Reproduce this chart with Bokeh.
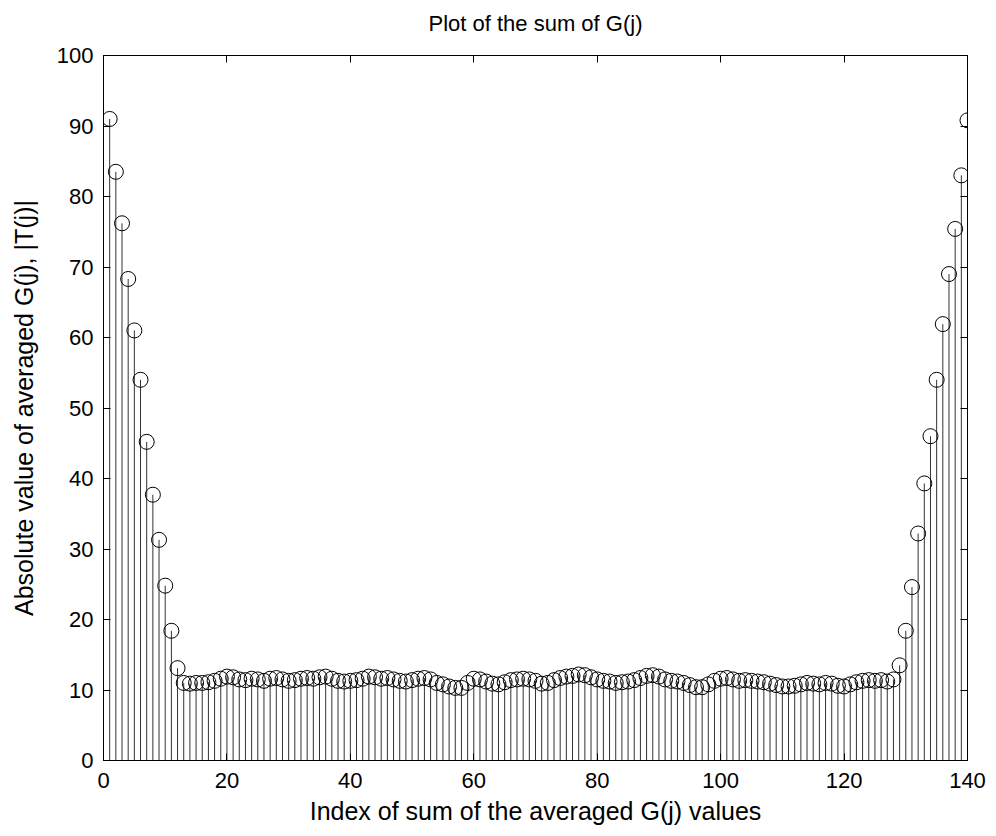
from bokeh.plotting import figure
from bokeh.models import LinearAxis, FixedTicker, ColumnDataSource
from bokeh.embed import file_html
from bokeh.resources import INLINE

# ---- data ----
index = list(range(1, 141))
rise_left = [91.0, 83.5, 76.2, 68.3, 61.0, 54.0, 45.2, 37.7, 31.3, 24.8, 18.4, 13.1]
flat_mid = [
    11.0, 10.9, 11.0, 11.0, 11.1, 11.3, 11.6, 11.9, 11.8, 11.5,   # 13-22
    11.4, 11.6, 11.5, 11.3, 11.6, 11.7, 11.5, 11.3, 11.4, 11.6,   # 23-32
    11.7, 11.6, 11.8, 11.9, 11.6, 11.3, 11.2, 11.3, 11.4, 11.6,   # 33-42
    11.9, 11.8, 11.6, 11.7, 11.5, 11.3, 11.2, 11.4, 11.6, 11.7,   # 43-52
    11.5, 11.0, 10.8, 10.5, 10.3, 10.3, 11.0, 11.6, 11.5, 11.2,   # 53-62
    10.9, 10.8, 11.1, 11.4, 11.5, 11.6, 11.5, 11.3, 10.9, 11.0,   # 63-72
    11.4, 11.7, 11.9, 12.0, 12.2, 12.1, 11.8, 11.5, 11.3, 11.2,   # 73-82
    11.0, 11.1, 11.2, 11.4, 11.7, 12.0, 12.1, 11.9, 11.5, 11.3,   # 83-92
    11.2, 11.0, 10.7, 10.4, 10.4, 10.8, 11.3, 11.6, 11.7, 11.5,   # 93-102
    11.3, 11.4, 11.3, 11.2, 11.1, 10.9, 10.7, 10.5, 10.5, 10.6,   # 103-112
    10.8, 11.0, 10.9, 10.8, 11.0, 10.9, 10.6, 10.5, 10.8, 11.1,   # 113-122
    11.3, 11.4, 11.3, 11.4, 11.2, 11.5,                           # 123-128
]
rise_right = [13.5, 18.4, 24.6, 32.2, 39.3, 46.0, 54.0, 61.9, 69.0, 75.4, 83.0, 90.8]
values = rise_left + flat_mid + rise_right

x_ticks = [0, 20, 40, 60, 80, 100, 120, 140]
y_ticks = [0, 10, 20, 30, 40, 50, 60, 70, 80, 90, 100]

title_text = "Plot of the sum of G(j)"
x_label = "Index of sum of the averaged G(j) values"
y_label = "Absolute value of averaged G(j), |T(j)|"

FONT = "Liberation Sans"

src = ColumnDataSource(dict(x=index, y=values, base=[0] * len(index)))

p = figure(width=996, height=836, x_range=(0, 140), y_range=(0, 100),
           output_backend="svg", toolbar_location=None,
           min_border_left=103, min_border_right=29,
           min_border_top=55, min_border_bottom=76,
           background_fill_color="white", border_fill_color="white")

p.grid.visible = False
p.outline_line_color = "black"
p.outline_line_width = 1

p.segment(x0="x", y0="base", x1="x", y1="y", source=src,
          line_color="#333333", line_width=1)
p.scatter(x="x", y="y", source=src, marker="circle", size=15,
          fill_color=None, line_color="black", line_width=1)

xa = p.xaxis[0]
ya = p.yaxis[0]
xa.ticker = FixedTicker(ticks=x_ticks)
ya.ticker = FixedTicker(ticks=y_ticks)

for ax in (xa, ya):
    ax.major_tick_in = 7
    ax.major_tick_out = 0
    ax.minor_tick_line_color = None
    ax.axis_line_color = "black"
    ax.major_tick_line_color = "black"
    ax.major_label_text_font = FONT
    ax.major_label_text_font_size = "22px"
    ax.major_label_text_color = "black"
    ax.axis_label_text_font = FONT
    ax.axis_label_text_font_size = "25px"
    ax.axis_label_text_font_style = "normal"
    ax.axis_label_text_color = "black"

xa.axis_label = x_label
ya.axis_label = y_label
xa.major_label_standoff = 12
ya.major_label_standoff = 10
xa.axis_label_standoff = 6
ya.axis_label_standoff = 16

# top axis carries the chart title as its label; right axis is tick-only
top = LinearAxis(ticker=FixedTicker(ticks=x_ticks))
right = LinearAxis(ticker=FixedTicker(ticks=y_ticks))
for ax in (top, right):
    ax.major_tick_in = 7
    ax.major_tick_out = 0
    ax.minor_tick_line_color = None
    ax.major_label_text_color = None
    ax.major_label_text_font_size = "0px"
    ax.major_label_standoff = 0
    ax.axis_line_color = "black"
    ax.major_tick_line_color = "black"
top.axis_label = title_text
top.axis_label_text_font = FONT
top.axis_label_text_font_size = "22px"
top.axis_label_text_font_style = "normal"
top.axis_label_text_color = "black"
top.axis_label_standoff = 20
p.add_layout(top, "above")
p.add_layout(right, "right")

open("out.html", "w").write(file_html(p, INLINE))
